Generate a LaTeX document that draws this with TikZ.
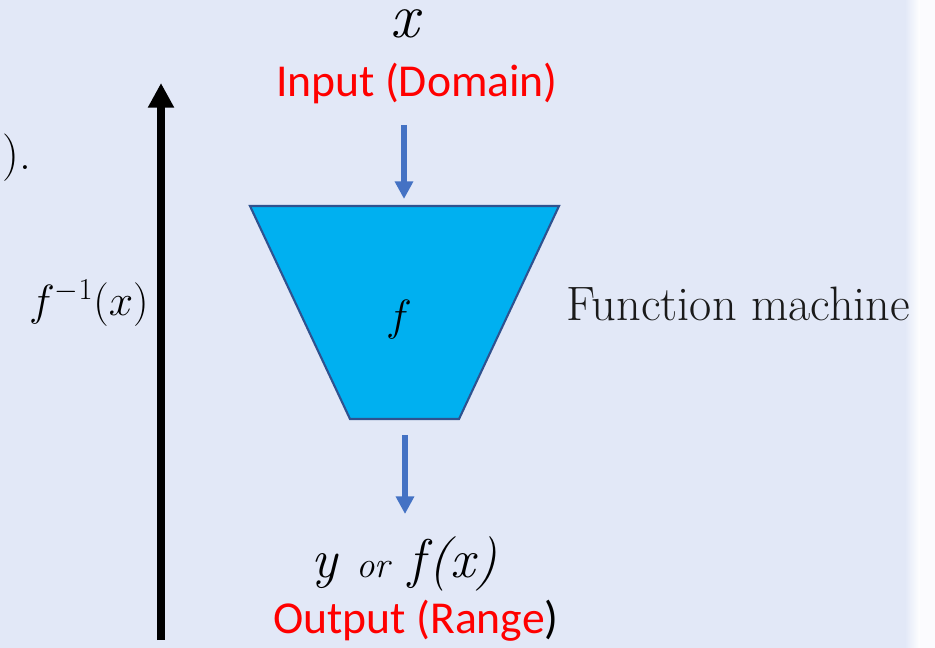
\documentclass[tikz,border=0pt]{standalone}
\usepackage{fontspec}
\newfontfamily\calib{Carlito}
\usetikzlibrary{arrows.meta}

\definecolor{bgblue}{HTML}{E2E8F7}
\definecolor{machine}{HTML}{00B0F0}
\definecolor{arrowblue}{HTML}{4472C4}
\definecolor{edgeblue}{HTML}{2F528F}
\definecolor{textgrey}{HTML}{1A1A1A}

\tikzset{
  flow/.style={arrowblue, line width=3.4pt, -{Triangle[width=10pt,length=10pt]}},
  redlab/.style={anchor=base, inner sep=0pt, text=red, font=\calib\fontsize{26}{30}\selectfont},
  serlab/.style={anchor=base, inner sep=0pt},
}

\begin{document}
\begin{tikzpicture}[x=0.02cm, y=-0.02cm]
        % Sfondo
        \fill[bgblue] (0,0) rectangle (935,648);
        \shade[left color=bgblue, right color=white] (905,0) rectangle (920,648);
        \fill[white!85!bgblue] (920,0) rectangle (935,648);
        \useasboundingbox (0,0) rectangle (935,648);

        % Resto del testo a sinistra
        \node[serlab, anchor=base west, font=\fontsize{27}{30}\selectfont] (rest) at (2,170) {).};

        % Freccia inversa
        \coordinate (invbot) at (161,640);
        \coordinate (invtop) at (161,83);
        \draw[line width=4.5pt, -{Triangle[width=14pt,length=14pt]}] (invbot) -- (invtop);
        \node[anchor=east, inner sep=0pt, font=\fontsize{26}{30}\selectfont] (finv) at (149,303) {$f^{-1}(x)$};

        % Ingresso
        \node[serlab, font=\itshape\fontsize{36}{40}\selectfont] (xin) at (405,38) {x};
        \node[redlab] (indom) at (417,97) {Input (Domain)};

        % Macchina
        \coordinate (m1) at (250,206);
        \coordinate (m2) at (559,206);
        \coordinate (m3) at (459,419);
        \coordinate (m4) at (350,419);
        \coordinate (mtop) at (404,206);
        \coordinate (mbot) at (405,419);
        \filldraw[fill=machine, draw=edgeblue, line width=1.2pt] (m1) -- (m2) -- (m3) -- (m4) -- cycle;
        \node[font=\fontsize{26}{30}\selectfont] (fn) at (399,320) {$f$};
        \node[serlab, anchor=base west, text=textgrey, font=\fontsize{27.5}{30}\selectfont] (fmach) at (566,320) {Function machine};

        % Uscita
        \node[serlab, font=\itshape\fontsize{31}{34}\selectfont] (yout) at (404,577) {y {\fontsize{21}{24}\selectfont or} f\kern2pt(x)};
        \node[redlab] (outrng) at (416,633) {Output (Range\textcolor{black}{)}};

        % Frecce blu
        \draw[flow, shorten >=4pt] (mtop |- 0,125) -- (mtop);
        \draw[flow, shorten <=9pt] (mbot) -- (mbot |- 0,514);

    \end{tikzpicture}
\end{document}
